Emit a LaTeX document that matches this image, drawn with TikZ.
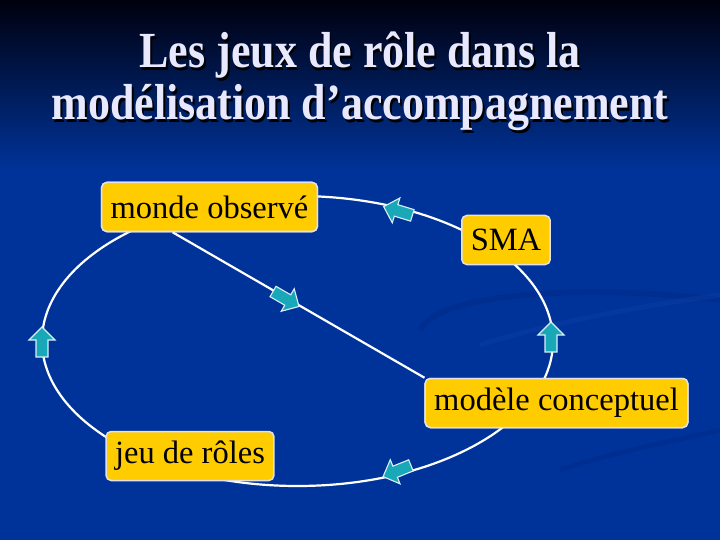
\documentclass[tikz,border=0pt]{standalone}
\usepackage{fontspec}
\setmainfont{Liberation Serif}
\usetikzlibrary{calc}
\definecolor{bgblue}{RGB}{0,51,153}
\definecolor{bgtop}{RGB}{0,0,14}
\definecolor{boxyellow}{RGB}{255,204,0}
\definecolor{boxedge}{RGB}{225,225,230}
\definecolor{teal}{RGB}{24,168,184}
\definecolor{tealedge}{RGB}{220,238,248}
\definecolor{titlecol}{RGB}{232,232,255}
\newcommand{\shadowtext}[1]{\makebox[0pt][l]{\kern2pt\raisebox{-2pt}{\color{black}#1}}#1}
\begin{document}
\begin{tikzpicture}[x=1pt,y=-1pt,
  box/.style={draw=boxedge,line width=1.5pt,fill=boxyellow,rounded corners=5pt,
    minimum height=49pt,inner xsep=9pt,inner ysep=0pt,
    font=\fontsize{32.5}{32.5}\selectfont,text=black},
  link/.style={draw=white,line width=2.2pt},
  arrowst/.style={fill=teal,draw=tealedge,line width=1.1pt,line join=miter},
  barrow/.pic={\path[arrowst] (15,0) -- (2,13) -- (2,6) -- (-15,6) -- (-15,-6) -- (2,-6) -- (2,-13) -- cycle;},
  titlest/.style={font=\bfseries\fontsize{44}{44}\selectfont,inner sep=0pt,anchor=base,text=titlecol}]
% background
\useasboundingbox (0,0) rectangle (720,540);
\fill[bgblue] (0,0) rectangle (720,540);
\shade[top color=bgtop,bottom color=bgblue] (0,0) rectangle (720,170);
% faint swooshes
\begin{scope}[opacity=0.25]
\draw[line width=6pt,color={rgb,255:red,0;green,35;blue,120}] (420,330) .. controls (440,290) and (600,285) .. (720,300);
\draw[line width=5pt,color={rgb,255:red,20;green,70;blue,175}] (480,345) .. controls (560,320) and (650,305) .. (720,295);
\draw[line width=5pt,color={rgb,255:red,0;green,35;blue,120}] (560,470) .. controls (620,450) and (680,440) .. (720,430);
\end{scope}
% title
\node[titlest] (t1) at (360,68) {\scalebox{1}[1.15]{\shadowtext{Les jeux de rôle dans la}}};
\node[titlest] (t2) at (360,120) {\scalebox{1}[1.15]{\shadowtext{modélisation d’accompagnement}}};
% node positions
\coordinate (pmonde) at (209.5,207);
\coordinate (psma) at (506,240);
\coordinate (pmodele) at (556.5,403);
\coordinate (pjeu) at (190,456);
% connectors (behind the boxes)
\path[link] (297.5,341) ellipse [x radius=255.5, y radius=145];
% boxes
\node[box] (monde) at (pmonde) {monde observé};
\node[box] (sma) at (psma) {SMA};
\node[box] (modele) at (pmodele) {modèle conceptuel};
\node[box] (jeu) at (pjeu) {jeu de rôles};
\begin{scope}
\coordinate (dstart) at ($(monde.south west)!0.33!(monde.south east)$);
\path[link] (dstart) -- (modele.north west);
\end{scope}
% redraw the two joined boxes over the diagonal's ends
\node[box] at (pmonde) {monde observé};
\node[box] at (pmodele) {modèle conceptuel};
% block arrows
\pic[rotate=90] at (42,342) {barrow};
\pic[rotate=90] at (551,337) {barrow};
\pic[rotate=163] at (398,211) {barrow};
\pic[rotate=-30] at (286,299) {barrow};
\pic[rotate=202] at (397,471) {barrow};
\end{tikzpicture}
\end{document}
